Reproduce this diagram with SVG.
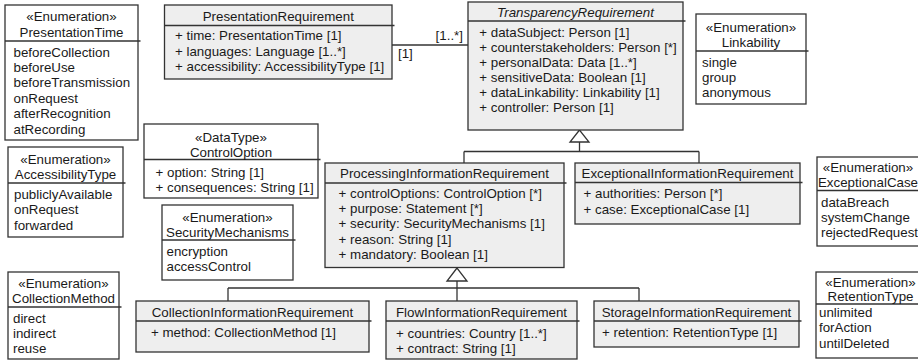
<svg xmlns="http://www.w3.org/2000/svg" width="918" height="360" viewBox="0 0 918 360">
  <style>
    .box { stroke: #333; stroke-width: 1.3; }
    .cls { fill: #eeeeee; }
    .enum { fill: #ffffff; }
    .sep { stroke: #333; stroke-width: 1.3; }
    text { font-family: "Liberation Sans", Arial, sans-serif; font-size: 13.33px; fill: #1a1a1a; }
    .c { text-anchor: middle; }
    .i { font-style: italic; }
    .conn line { stroke: #333; stroke-width: 1.3; fill: none; }
    .gen { fill: #ffffff; stroke: #333; stroke-width: 1.3; }
  </style>
  <rect width="918" height="360" fill="#ffffff"/>

  <!-- connectors -->
  <g id="connectors" class="conn">
    <!-- association PresentationRequirement - TransparencyRequirement -->
    <line x1="392" y1="45" x2="468" y2="45"/>
    <text x="463" y="40" style="text-anchor:end">[1..*]</text>
    <text x="398" y="58">[1]</text>
    <!-- generalization to TransparencyRequirement -->
    <line x1="579.5" y1="142" x2="579.5" y2="151.5"/>
    <line x1="464" y1="151.5" x2="699" y2="151.5"/>
    <line x1="464" y1="151.5" x2="464" y2="163"/>
    <line x1="699" y1="151.5" x2="699" y2="163"/>
    <polygon class="gen" points="579.5,130 570,142 589,142"/>
    <!-- generalization to ProcessingInformationRequirement -->
    <line x1="457" y1="281" x2="457" y2="301"/>
    <line x1="228" y1="288" x2="639" y2="288"/>
    <line x1="228" y1="288" x2="228" y2="301"/>
    <line x1="639" y1="288" x2="639" y2="301"/>
    <polygon class="gen" points="457,268 447,281 467,281"/>
  </g>

  <!-- enumerations and data types -->
  <g id="PresentationTime">
    <rect class="box enum" x="5" y="5" width="133" height="135"/>
    <line class="sep" x1="5" y1="41" x2="140.5" y2="41"/>
    <text class="c" x="71.5" y="21">«Enumeration»</text>
    <text class="c" x="71.5" y="36.5">PresentationTime</text>
    <text x="13.5">
      <tspan x="13.5" y="56.5">beforeCollection</tspan>
      <tspan x="13.5" y="71.9">beforeUse</tspan>
      <tspan x="13.5" y="87.3">beforeTransmission</tspan>
      <tspan x="13.5" y="102.7">onRequest</tspan>
      <tspan x="13.5" y="118.1">afterRecognition</tspan>
      <tspan x="13.5" y="133.5">atRecording</tspan>
    </text>
  </g>

  <g id="Linkability">
    <rect class="box enum" x="696" y="14" width="110" height="90"/>
    <line class="sep" x1="696" y1="51" x2="808.5" y2="51"/>
    <text class="c" x="751" y="31.5">«Enumeration»</text>
    <text class="c" x="751" y="46.5">Linkability</text>
    <text>
      <tspan x="702" y="66.5">single</tspan>
      <tspan x="702" y="81.8">group</tspan>
      <tspan x="702" y="97.1">anonymous</tspan>
    </text>
  </g>

  <g id="ControlOption">
    <rect class="box enum" x="144" y="124" width="174" height="74"/>
    <line class="sep" x1="144" y1="159.5" x2="320.5" y2="159.5"/>
    <text class="c" x="231" y="141.5">«DataType»</text>
    <text class="c" x="231" y="156.5">ControlOption</text>
    <text>
      <tspan x="155.5" y="176.5">+ option: String [1]</tspan>
      <tspan x="155.5" y="191.5">+ consequences: String [1]</tspan>
    </text>
  </g>

  <g id="AccessibilityType">
    <rect class="box enum" x="8" y="147" width="115" height="90"/>
    <line class="sep" x1="8" y1="183" x2="125.5" y2="183"/>
    <text class="c" x="65.5" y="163.5">«Enumeration»</text>
    <text class="c" x="65.5" y="179">AccessibilityType</text>
    <text>
      <tspan x="14" y="199">publiclyAvailable</tspan>
      <tspan x="14" y="214.3">onRequest</tspan>
      <tspan x="14" y="229.6">forwarded</tspan>
    </text>
  </g>

  <g id="SecurityMechanisms">
    <rect class="box enum" x="162" y="205" width="131" height="75"/>
    <line class="sep" x1="162" y1="240" x2="295.5" y2="240"/>
    <text class="c" x="227.5" y="221.5">«Enumeration»</text>
    <text class="c" x="227.5" y="236.5">SecurityMechanisms</text>
    <text>
      <tspan x="166.5" y="255.5">encryption</tspan>
      <tspan x="166.5" y="270.8">accessControl</tspan>
    </text>
  </g>

  <g id="CollectionMethod">
    <rect class="box enum" x="8" y="272" width="111" height="87"/>
    <line class="sep" x1="8" y1="307" x2="121.5" y2="307"/>
    <text class="c" x="63.5" y="287.5">«Enumeration»</text>
    <text class="c" x="63.5" y="303">CollectionMethod</text>
    <text>
      <tspan x="13" y="322.5">direct</tspan>
      <tspan x="13" y="337.8">indirect</tspan>
      <tspan x="13" y="353.1">reuse</tspan>
    </text>
  </g>

  <g id="ExceptionalCase">
    <rect class="box enum" x="817" y="157" width="108" height="89"/>
    <line class="sep" x1="817" y1="190.5" x2="925" y2="190.5"/>
    <text class="c" x="868" y="171.5">«Enumeration»</text>
    <text class="c" x="868" y="187">ExceptionalCase</text>
    <text>
      <tspan x="821" y="206.5">dataBreach</tspan>
      <tspan x="821" y="221.8">systemChange</tspan>
      <tspan x="821" y="237.1">rejectedRequest</tspan>
    </text>
  </g>

  <g id="RetentionType">
    <rect class="box enum" x="816" y="272" width="110" height="86"/>
    <line class="sep" x1="816" y1="304" x2="926" y2="304"/>
    <text class="c" x="870.5" y="286.5">«Enumeration»</text>
    <text class="c" x="870.5" y="301">RetentionType</text>
    <text>
      <tspan x="819" y="317">unlimited</tspan>
      <tspan x="819" y="332.3">forAction</tspan>
      <tspan x="819" y="347.6">untilDeleted</tspan>
    </text>
  </g>

  <!-- requirement classes -->
  <g id="PresentationRequirement">
    <rect class="box cls" x="164.5" y="5" width="227.5" height="74"/>
    <line class="sep" x1="164.5" y1="25.5" x2="394.5" y2="25.5"/>
    <text class="c" x="278.3" y="20.5">PresentationRequirement</text>
    <text>
      <tspan x="175" y="40.3">+ time: PresentationTime [1]</tspan>
      <tspan x="175" y="55.5">+ languages: Language [1..*]</tspan>
      <tspan x="175" y="70.7">+ accessibility: AccessibilityType [1]</tspan>
    </text>
  </g>

  <g id="TransparencyRequirement">
    <rect class="box cls" x="468" y="2" width="215" height="128"/>
    <line class="sep" x1="468" y1="21" x2="685.5" y2="21"/>
    <text class="c i" x="575.5" y="17">TransparencyRequirement</text>
    <text>
      <tspan x="479.3" y="37">+ dataSubject: Person [1]</tspan>
      <tspan x="479.3" y="52">+ counterstakeholders: Person [*]</tspan>
      <tspan x="479.3" y="67">+ personalData: Data [1..*]</tspan>
      <tspan x="479.3" y="82">+ sensitiveData: Boolean [1]</tspan>
      <tspan x="479.3" y="97">+ dataLinkability: Linkability [1]</tspan>
      <tspan x="479.3" y="112">+ controller: Person [1]</tspan>
    </text>
  </g>

  <g id="ProcessingInformationRequirement">
    <rect class="box cls" x="325" y="163" width="239" height="104.5"/>
    <line class="sep" x1="325" y1="183" x2="566.5" y2="183"/>
    <text class="c" x="444.5" y="178">ProcessingInformationRequirement</text>
    <text>
      <tspan x="338.6" y="198">+ controlOptions: ControlOption [*]</tspan>
      <tspan x="338.6" y="213.2">+ purpose: Statement [*]</tspan>
      <tspan x="338.6" y="228.4">+ security: SecurityMechanisms [1]</tspan>
      <tspan x="338.6" y="243.6">+ reason: String [1]</tspan>
      <tspan x="338.6" y="258.8">+ mandatory: Boolean [1]</tspan>
    </text>
  </g>

  <g id="ExceptionalInformationRequirement">
    <rect class="box cls" x="575" y="163" width="225" height="61"/>
    <line class="sep" x1="575" y1="182.5" x2="802.5" y2="182.5"/>
    <text class="c" x="687.5" y="178">ExceptionalInformationRequirement</text>
    <text>
      <tspan x="583.5" y="198">+ authorities: Person [*]</tspan>
      <tspan x="583.5" y="213.5">+ case: ExceptionalCase [1]</tspan>
    </text>
  </g>

  <g id="CollectionInformationRequirement">
    <rect class="box cls" x="136" y="301" width="233" height="51"/>
    <line class="sep" x1="136" y1="321" x2="371.5" y2="321"/>
    <text class="c" x="252.5" y="316.5">CollectionInformationRequirement</text>
    <text x="151" y="336.5">+ method: CollectionMethod [1]</text>
  </g>

  <g id="FlowInformationRequirement">
    <rect class="box cls" x="386" y="301" width="191" height="58"/>
    <line class="sep" x1="386" y1="321" x2="579.5" y2="321"/>
    <text class="c" x="481.5" y="316.5">FlowInformationRequirement</text>
    <text>
      <tspan x="396" y="337.5">+ countries: Country [1..*]</tspan>
      <tspan x="396" y="352.5">+ contract: String [1]</tspan>
    </text>
  </g>

  <g id="StorageInformationRequirement">
    <rect class="box cls" x="594" y="301" width="205" height="46"/>
    <line class="sep" x1="594" y1="321" x2="801.5" y2="321"/>
    <text class="c" x="696.5" y="316.5">StorageInformationRequirement</text>
    <text x="602" y="336.5">+ retention: RetentionType [1]</text>
  </g>
</svg>
